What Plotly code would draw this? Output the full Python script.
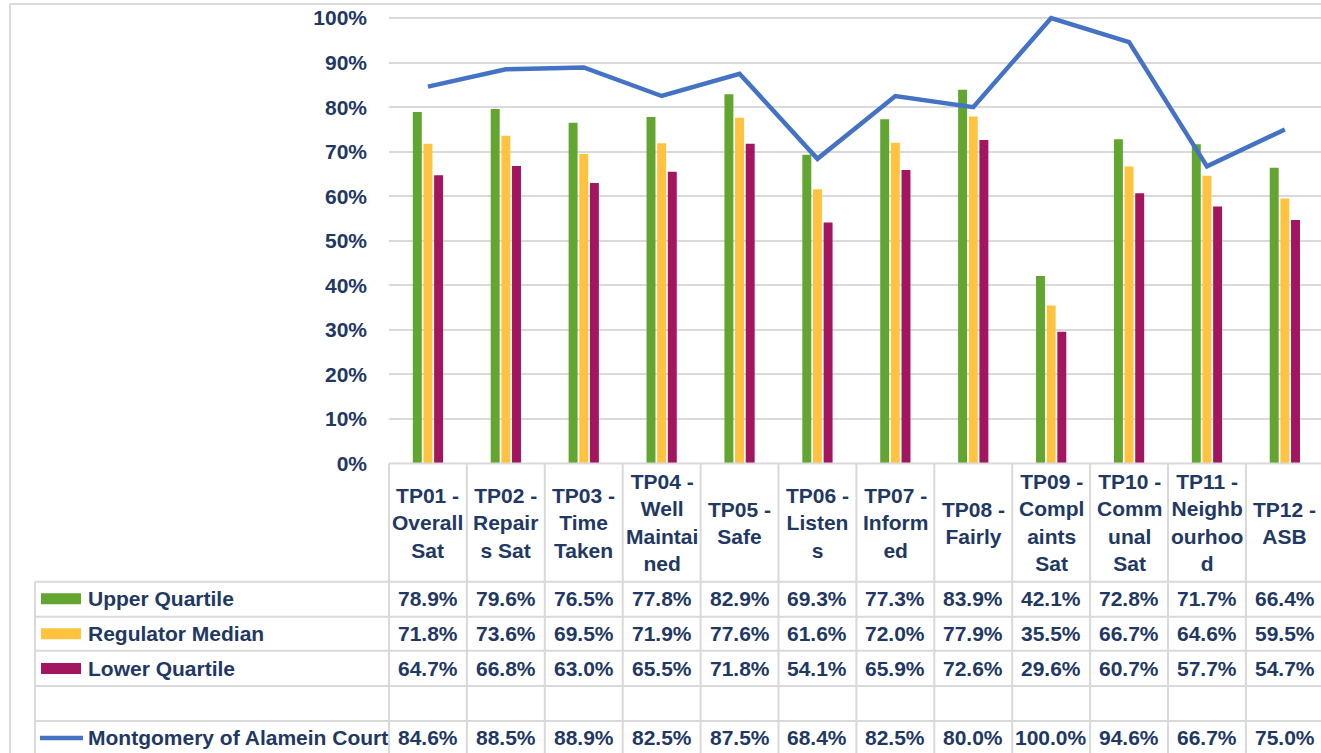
import plotly.graph_objects as go

# ---------------- data ----------------
categories = ["TP01 - Overall Sat", "TP02 - Repairs Sat", "TP03 - Time Taken",
              "TP04 - Well Maintained", "TP05 - Safe", "TP06 - Listens",
              "TP07 - Informed", "TP08 - Fairly", "TP09 - Complaints Sat",
              "TP10 - Communal Sat", "TP11 - Neighbourhood", "TP12 - ASB"]
tick_labels = ["TP01 -<br>Overall<br>Sat", "TP02 -<br>Repair<br>s Sat", "TP03 -<br>Time<br>Taken",
               "TP04 -<br>Well<br>Maintai<br>ned", "TP05 -<br>Safe", "TP06 -<br>Listen<br>s",
               "TP07 -<br>Inform<br>ed", "TP08 -<br>Fairly", "TP09 -<br>Compl<br>aints<br>Sat",
               "TP10 -<br>Comm<br>unal<br>Sat", "TP11 -<br>Neighb<br>ourhoo<br>d", "TP12 -<br>ASB"]
upper_quartile = [78.9, 79.6, 76.5, 77.8, 82.9, 69.3, 77.3, 83.9, 42.1, 72.8, 71.7, 66.4]
regulator_median = [71.8, 73.6, 69.5, 71.9, 77.6, 61.6, 72.0, 77.9, 35.5, 66.7, 64.6, 59.5]
lower_quartile = [64.7, 66.8, 63.0, 65.5, 71.8, 54.1, 65.9, 72.6, 29.6, 60.7, 57.7, 54.7]
court = [84.6, 88.5, 88.9, 82.5, 87.5, 68.4, 82.5, 80.0, 100.0, 94.6, 66.7, 75.0]
series_names = ["Upper Quartile", "Regulator Median", "Lower Quartile", "Montgomery of Alamein Court"]
y_ticks = [0, 10, 20, 30, 40, 50, 60, 70, 80, 90, 100]
y_tick_text = ["0%", "10%", "20%", "30%", "40%", "50%", "60%", "70%", "80%", "90%", "100%"]

# ---------------- styling ----------------
W, H = 1321, 753          # reference design space
FIG_H = 765               # rendered height (page is captured and fitted to 753)
GREEN, YELLOW, MAGENTA, BLUE = "#62A531", "#FFC340", "#A3155F", "#4472C4"
TXT = "#1F3864"
GRID = "#D9D9D9"
FONT = "Arial, Liberation Sans, sans-serif"
FS = 21

def xp(px):
    return px / W

def yp(py):
    return 1 - py / H

plot_left, y0_px, y100_px = 389, 463, 18
col_w = 77.9
x_end = -0.5 + (W - plot_left) / col_w
y_top = 103
top_px = y0_px - (y0_px - y100_px) / 100 * y_top

fig = go.Figure()
for name, vals, col in [(series_names[0], upper_quartile, GREEN),
                        (series_names[1], regulator_median, YELLOW),
                        (series_names[2], lower_quartile, MAGENTA)]:
    fig.add_trace(go.Bar(x=categories, y=vals, name=name, marker_color=col,
                         marker_line_width=0))
fig.add_trace(go.Scatter(x=categories, y=court, name=series_names[3], mode="lines",
                         line=dict(color=BLUE, width=4.5)))

shapes = []
annotations = []

def hline(y, x0, x1):
    shapes.append(dict(type="line", xref="paper", yref="paper", x0=xp(x0), x1=xp(x1),
                       y0=yp(y), y1=yp(y), line=dict(color=GRID, width=2)))

def vline(x, y0, y1):
    shapes.append(dict(type="line", xref="paper", yref="paper", x0=xp(x), x1=xp(x),
                       y0=yp(y0), y1=yp(y1), line=dict(color=GRID, width=2)))

# outer chart border
hline(4, 10, W)
vline(10, 4, H)

# table grid
row_lines = [581, 616, 650, 685, 720]
for y in row_lines:
    hline(y, 35, W)
hline(463, plot_left, W)
vline(35, 581, H)
for k in range(12):
    x = plot_left + k * col_w
    vline(x, 463, H)

# category header labels
for i, lab in enumerate(tick_labels):
    annotations.append(dict(x=i, xref="x", y=yp(522), yref="paper", text=lab,
                            showarrow=False, xanchor="center", yanchor="middle",
                            font=dict(family=FONT, size=FS, color=TXT, weight="bold"),
                            align="center"))

# value rows
row_centers = [598, 633, 667.5, 737]
row_data = [upper_quartile, regulator_median, lower_quartile, court]
for yc, vals in zip(row_centers, row_data):
    for i, v in enumerate(vals):
        annotations.append(dict(x=i, xref="x", y=yp(yc), yref="paper", text=f"{v:.1f}%",
                                showarrow=False, xanchor="center", yanchor="middle",
                                font=dict(family=FONT, size=FS, color=TXT, weight="bold")))

# legend keys + labels
key_cols = [GREEN, YELLOW, MAGENTA]
for yc, name, col in zip(row_centers[:3], series_names[:3], key_cols):
    shapes.append(dict(type="rect", xref="paper", yref="paper", x0=xp(41), x1=xp(81),
                       y0=yp(yc - 5.5), y1=yp(yc + 5.5), fillcolor=col, line_width=0))
shapes.append(dict(type="line", xref="paper", yref="paper", x0=xp(40), x1=xp(83),
                   y0=yp(737), y1=yp(737), line=dict(color=BLUE, width=4.5)))
for yc, name in zip(row_centers, series_names):
    annotations.append(dict(x=xp(86), xref="paper", y=yp(yc), yref="paper", text=name,
                            showarrow=False, xanchor="left", yanchor="middle",
                            font=dict(family=FONT, size=FS, color=TXT, weight="bold")))

fig.update_layout(
    width=W, height=FIG_H, autosize=False,
    margin=dict(l=0, r=0, t=0, b=0),
    paper_bgcolor="white", plot_bgcolor="white",
    barmode="group", bargap=0.59, bargroupgap=0.16,
    showlegend=False, dragmode=False,
    shapes=shapes, annotations=annotations,
    xaxis=dict(domain=[xp(plot_left), 1], range=[-0.5, x_end], showticklabels=False,
               showgrid=False, zeroline=False, showline=False, ticks="", fixedrange=True),
    yaxis=dict(domain=[yp(y0_px), yp(top_px)], range=[0, y_top], tickmode="array",
               tickvals=y_ticks, ticktext=y_tick_text,
               showgrid=True, gridcolor=GRID, gridwidth=2, fixedrange=True,
               zeroline=False, showline=False, ticks="", ticklabelstandoff=21,
               tickfont=dict(family=FONT, size=FS, color=TXT, weight="bold")),
)

page_fix = """
var de = document.documentElement, b = document.body;
[de, b].forEach(function(e){ e.style.margin='0'; e.style.padding='0'; });
"""

fig.write_html("out.html",
               config={"responsive": False, "displayModeBar": False, "staticPlot": True},
               post_script=page_fix)
